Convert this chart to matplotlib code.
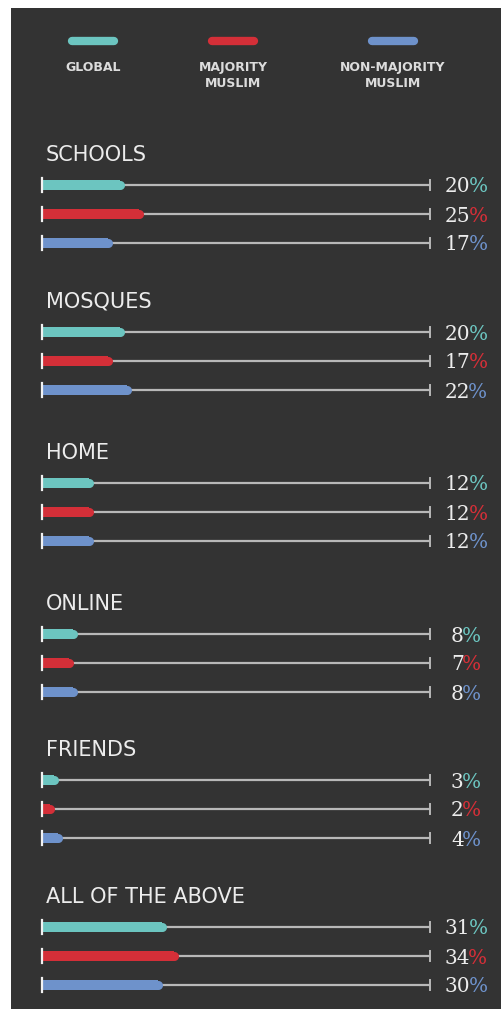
import matplotlib
matplotlib.use("Agg")
import matplotlib.pyplot as plt
from matplotlib.patches import Rectangle

# ---- data ----
categories = ["SCHOOLS", "MOSQUES", "HOME", "ONLINE", "FRIENDS", "ALL OF THE ABOVE"]
series_names = ["GLOBAL", "MAJORITY\nMUSLIM", "NON-MAJORITY\nMUSLIM"]
global_vals = [20, 20, 12, 8, 3, 31]
majority_vals = [25, 17, 12, 7, 2, 34]
nonmajority_vals = [17, 22, 12, 8, 4, 30]

colors = ["#6cc5c0", "#d42f38", "#6e92cb"]
bg = "#333333"
line_col = "#b8b8b8"
text_col = "#ececec"

W, H = 502, 1009
fig = plt.figure(figsize=(W / 100, H / 100), dpi=100)
fig.patch.set_facecolor("white")

ax = fig.add_axes([0, 0, 1, 1])
ax.set_facecolor("none")
ax.add_patch(Rectangle((11 / W, 0), (W - 11) / W, (H - 8) / H,
                       transform=fig.transFigure, facecolor=bg,
                       edgecolor="none", zorder=0))
x0_px, x100_px = 42, 430
scale = (x100_px - x0_px) / 100.0
ax.set_xlim(-x0_px / scale, (W - x0_px) / scale)
ax.set_ylim(H, 0)
ax.axis("off")

def px_to_x(p):
    return (p - x0_px) / scale

# layout (pixel rows)
group_first_row = [185, 332, 483, 634, 780, 927]
row_gap = 29
title_offset = 30
bar_h = 10
label_center_px = 466

series = [global_vals, majority_vals, nonmajority_vals]
labels = []

for gi, cat in enumerate(categories):
    y0 = group_first_row[gi]
    ax.text(px_to_x(46), y0 - title_offset, cat,
            fontsize=15, family="DejaVu Sans", color=text_col,
            ha="left", va="center")
    for si, vals in enumerate(series):
        y = y0 + si * row_gap
        v = vals[gi]
        # baseline track
        ax.plot([0, 100], [y, y], color=line_col, lw=1.6, solid_capstyle="butt", zorder=2)
        # bar
        ax.barh(y, v, height=bar_h, left=0, color=colors[si], zorder=3)
        # rounded end cap
        ax.plot([v], [y], marker="o", ms=6.5, color=colors[si], mec="none", zorder=3)
        # left tick
        ax.plot([0, 0], [y - 7, y + 7], color="#f2f2f2", lw=1.6, zorder=4)
        # right tick
        ax.plot([100, 100], [y - 5, y + 5], color=line_col, lw=1.4, zorder=4)
        # value label
        t = ax.text(px_to_x(439), y, f"{v}", fontsize=14.5, family="DejaVu Serif",
                    color=text_col, ha="left", va="center_baseline")
        p = ax.annotate("%", xy=(1, 0), xycoords=t, xytext=(-1.2, 0),
                        textcoords="offset points", fontsize=14.5,
                        family="DejaVu Serif", color=colors[si], ha="left", va="bottom")
        labels.append((t, p))

# center each "NN%" label on a common column
fig.canvas.draw()
renderer = fig.canvas.get_renderer()
for t, p in labels:
    b1 = t.get_window_extent(renderer)
    b2 = p.get_window_extent(renderer)
    total = b2.x1 - b1.x0
    x, y = t.get_position()
    t.set_position((px_to_x(label_center_px - total / 2), y))

# legend
leg_x = [93, 233, 393]
for si, name in enumerate(series_names):
    cx = px_to_x(leg_x[si])
    half = 21 / scale
    ax.plot([cx - half, cx + half], [41, 41], color=colors[si], lw=6,
            solid_capstyle="round", zorder=3)
    ax.text(cx, 61, name, fontsize=9, family="DejaVu Sans", fontweight="bold",
            color="#dcdcdc", ha="center", va="top", linespacing=1.3)

fig.savefig("out.png", dpi=100, facecolor=fig.get_facecolor())
